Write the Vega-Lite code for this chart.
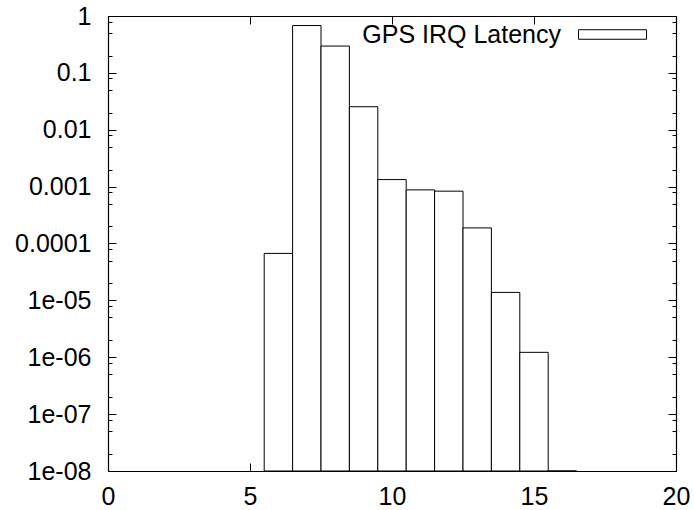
{
  "$schema": "https://vega.github.io/schema/vega-lite/v6.json",
  "autosize": {"type": "none"},
  "padding": {"left": 108, "top": 16, "right": 18, "bottom": 39},
  "width": 568,
  "height": 455,
  "background": "white",
  "config": {
    "font": "Liberation Sans",
    "view": {"stroke": "black", "strokeWidth": 1},
    "axis": {
      "labelFont": "Liberation Sans",
      "labelFontSize": 25,
      "labelColor": "black",
      "domainColor": "black",
      "domainWidth": 1.2,
      "tickColor": "black",
      "tickWidth": 1,
      "grid": false,
      "title": null
    }
  },
  "data": {
    "values": [
      {"bin": 6, "start": 5.5, "end": 6.5, "frac": 6.7e-5, "series": "GPS IRQ Latency"},
      {"bin": 7, "start": 6.5, "end": 7.5, "frac": 0.68, "series": "GPS IRQ Latency"},
      {"bin": 8, "start": 7.5, "end": 8.5, "frac": 0.296, "series": "GPS IRQ Latency"},
      {"bin": 9, "start": 8.5, "end": 9.5, "frac": 0.0254, "series": "GPS IRQ Latency"},
      {"bin": 10, "start": 9.5, "end": 10.5, "frac": 0.00133, "series": "GPS IRQ Latency"},
      {"bin": 11, "start": 10.5, "end": 11.5, "frac": 0.000877, "series": "GPS IRQ Latency"},
      {"bin": 12, "start": 11.5, "end": 12.5, "frac": 0.000832, "series": "GPS IRQ Latency"},
      {"bin": 13, "start": 12.5, "end": 13.5, "frac": 0.000188, "series": "GPS IRQ Latency"},
      {"bin": 14, "start": 13.5, "end": 14.5, "frac": 1.38e-5, "series": "GPS IRQ Latency"},
      {"bin": 15, "start": 14.5, "end": 15.5, "frac": 1.22e-6, "series": "GPS IRQ Latency"},
      {"bin": 16, "start": 15.5, "end": 16.5, "frac": 1e-8, "series": "GPS IRQ Latency"}
    ]
  },
  "resolve": {"scale": {"x": "independent", "y": "independent"}, "axis": {"x": "independent", "y": "independent"}},
  "layer": [
    {
      "mark": {"type": "bar", "stroke": "black", "strokeWidth": 1},
      "encoding": {
        "x": {
          "field": "start", "type": "quantitative",
          "scale": {"domain": [0, 20], "nice": false, "zero": false},
          "axis": {"orient": "bottom", "values": [0, 5, 10, 15, 20], "tickSize": -8, "labelPadding": 21, "labelFlush": false}
        },
        "x2": {"field": "end"},
        "y": {
          "field": "frac", "type": "quantitative",
          "scale": {"type": "log", "domain": [1e-8, 1], "nice": false},
          "axis": {
            "orient": "left",
            "values": [1e-8, 2e-8, 5e-8, 8e-8, 1e-7, 2e-7, 5e-7, 8e-7, 1e-6, 2e-6, 5e-6, 8e-6, 1e-5, 2e-5, 5e-5, 8e-5, 1e-4, 2e-4, 5e-4, 8e-4, 0.001, 0.002, 0.005, 0.008, 0.01, 0.02, 0.05, 0.08, 0.1, 0.2, 0.5, 0.8, 1],
            "tickSize": {"condition": {"test": "abs(log(datum.value)/LN10 - round(log(datum.value)/LN10)) < 0.001", "value": -8}, "value": -4},
            "labelPadding": 25,
            "labelFlush": false,
            "labelExpr": "abs(log(datum.value)/LN10 - round(log(datum.value)/LN10)) > 0.001 ? '' : (round(log(datum.value)/LN10) >= -4 ? format(datum.value, '.4~f') : '1e-0' + (-round(log(datum.value)/LN10)))"
          }
        },
        "y2": {"datum": 1e-8},
        "fill": {
          "field": "series", "type": "nominal",
          "scale": {"range": ["white"]},
          "legend": {
            "orient": "none",
            "legendX": 470,
            "legendY": -16,
            "title": null,
            "symbolType": "M-1,-0.14H1V0.14H-1Z",
            "symbolSize": 4624,
            "symbolStrokeColor": "black",
            "symbolStrokeWidth": 1,
            "labelFont": "Liberation Sans",
            "labelFontSize": 25,
            "labelColor": "black",
            "labelAlign": "right",
            "labelOffset": -86,
            "labelLimit": 0,
            "padding": 0
          }
        }
      }
    },
    {
      "mark": {"type": "point", "opacity": 0},
      "encoding": {
        "x": {
          "field": "start", "type": "quantitative",
          "scale": {"domain": [0, 20], "nice": false, "zero": false},
          "axis": {"orient": "top", "values": [0, 5, 10, 15, 20], "tickSize": -8, "labels": false}
        },
        "y": {
          "field": "frac", "type": "quantitative",
          "scale": {"type": "log", "domain": [1e-8, 1], "nice": false},
          "axis": {
            "orient": "right",
            "labels": false,
            "values": [1e-8, 2e-8, 5e-8, 8e-8, 1e-7, 2e-7, 5e-7, 8e-7, 1e-6, 2e-6, 5e-6, 8e-6, 1e-5, 2e-5, 5e-5, 8e-5, 1e-4, 2e-4, 5e-4, 8e-4, 0.001, 0.002, 0.005, 0.008, 0.01, 0.02, 0.05, 0.08, 0.1, 0.2, 0.5, 0.8, 1],
            "tickSize": {"condition": {"test": "abs(log(datum.value)/LN10 - round(log(datum.value)/LN10)) < 0.001", "value": -8}, "value": -4}
          }
        }
      }
    }
  ]
}
